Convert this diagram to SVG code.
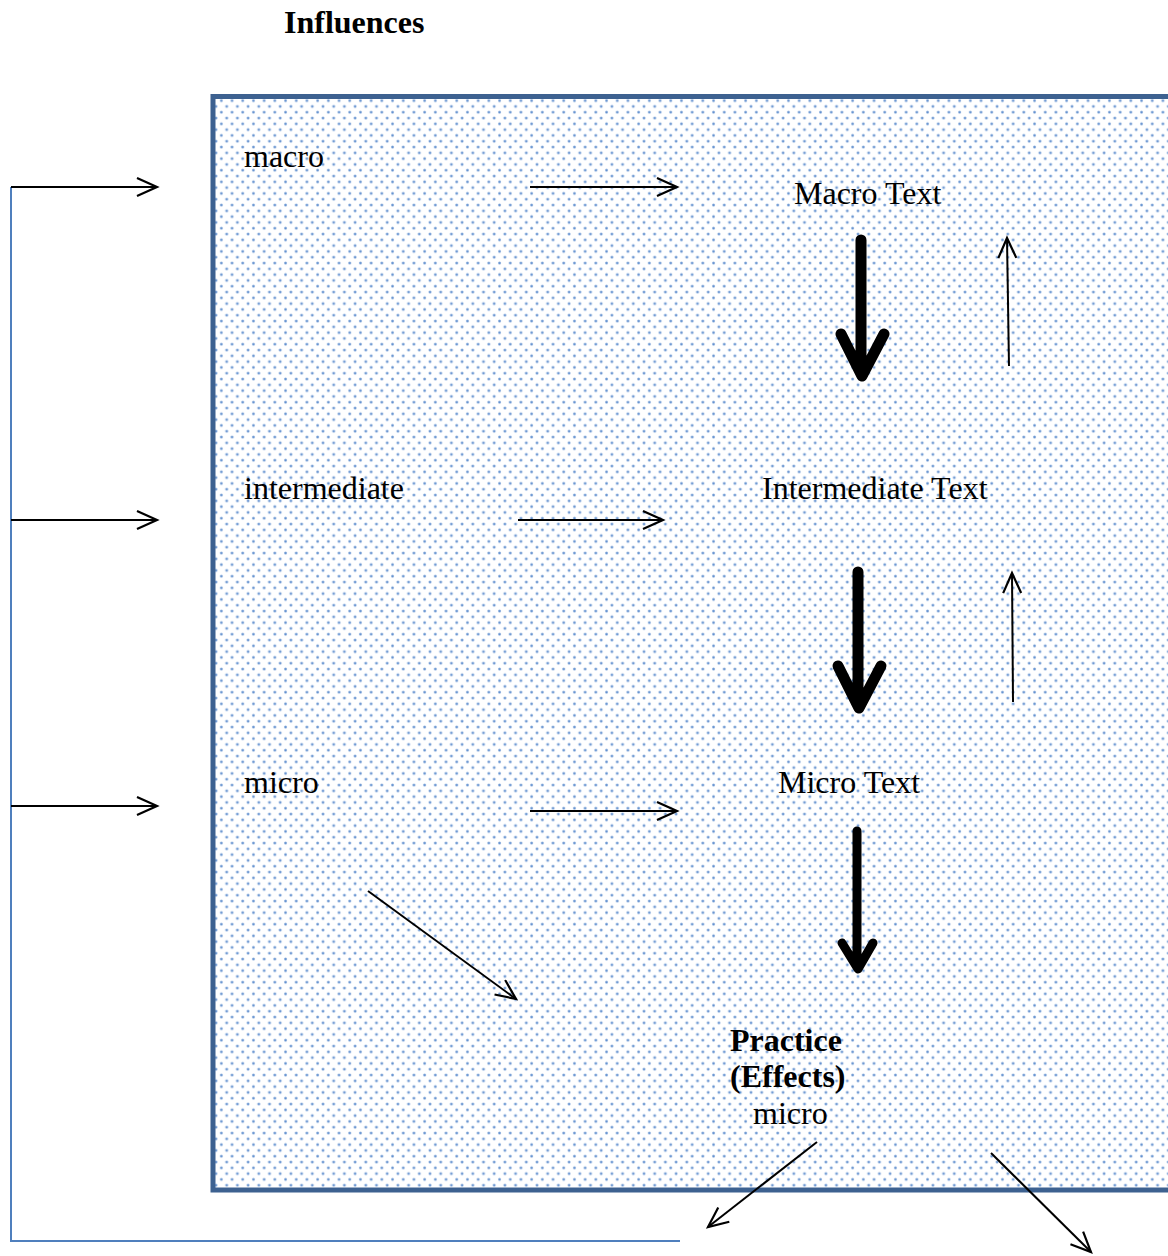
<svg xmlns="http://www.w3.org/2000/svg" width="1168" height="1256" viewBox="0 0 1168 1256">
<style>
text{font-family:"Liberation Serif","Times New Roman",serif;font-size:32px;fill:#000}
.b{font-weight:bold}
.thin{stroke:#000;stroke-width:2;fill:none}
.thick{stroke:#000;fill:none;stroke-linecap:round;stroke-linejoin:round}
.blue{stroke:#4f7fbd;stroke-width:2;fill:none}
</style>
<defs>
<pattern id="dots" width="10.7" height="11.6" patternUnits="userSpaceOnUse">
<rect width="10.7" height="11.6" fill="#fff"/>
<circle cx="2" cy="2" r="1.6" fill="#9dbbe3"/>
<circle cx="2" cy="2" r="0.9" fill="#5d8ccc"/>
<circle cx="7.35" cy="7.8" r="1.6" fill="#9dbbe3"/>
<circle cx="7.35" cy="7.8" r="0.9" fill="#5d8ccc"/>
</pattern>
<marker id="open" markerUnits="userSpaceOnUse" markerWidth="30" markerHeight="24" refX="21" refY="10" orient="auto">
<path d="M1,1 L21,10 L1,19" stroke="#000" stroke-width="2.2" fill="none"/>
</marker>
</defs>
<rect width="1168" height="1256" fill="#fff"/>
<g id="frame">
<rect x="213" y="96.5" width="980" height="1093.5" fill="url(#dots)" stroke="#3d6190" stroke-width="5"/>
</g>
<g id="title"><text class="b" x="284" y="33">Influences</text></g>
<g id="n-macro"><text x="244" y="167">macro</text></g>
<g id="n-macro-text"><text x="794" y="204">Macro Text</text></g>
<g id="n-intermediate"><text x="244" y="499">intermediate</text></g>
<g id="n-intermediate-text"><text x="762" y="499">Intermediate Text</text></g>
<g id="n-micro"><text x="244" y="793">micro</text></g>
<g id="n-micro-text"><text x="778" y="793">Micro Text</text></g>
<g id="n-practice">
<text class="b" x="730" y="1051">Practice</text>
<text class="b" x="730" y="1087">(Effects)</text>
<text x="753" y="1124">micro</text>
</g>
<g id="connectors">
<polyline class="blue" points="680,1241 11,1241 11,187"/>
<line class="thin" x1="11" y1="187" x2="157" y2="187" marker-end="url(#open)"/>
<line class="thin" x1="11" y1="520" x2="157" y2="520" marker-end="url(#open)"/>
<line class="thin" x1="11" y1="806" x2="157" y2="806" marker-end="url(#open)"/>
<line class="thin" x1="530" y1="187" x2="677" y2="187" marker-end="url(#open)"/>
<line class="thin" x1="518" y1="520" x2="663" y2="520" marker-end="url(#open)"/>
<line class="thin" x1="530" y1="811" x2="677" y2="811" marker-end="url(#open)"/>
<line class="thin" x1="1009" y1="366" x2="1007" y2="238" marker-end="url(#open)"/>
<line class="thin" x1="1013" y1="702" x2="1012" y2="573" marker-end="url(#open)"/>
<line class="thin" x1="368" y1="891" x2="516" y2="999" marker-end="url(#open)"/>
<line class="thin" x1="817" y1="1142" x2="708" y2="1227" marker-end="url(#open)"/>
<line class="thin" x1="991" y1="1153" x2="1091" y2="1252" marker-end="url(#open)"/>
<path class="thick" stroke-width="11" d="M861,240 L861,370 M841,334 L862,376 L884,334"/>
<path class="thick" stroke-width="11" d="M858,572 L858,702 M838,666 L859,708 L881,666"/>
<path class="thick" stroke-width="9" d="M857,831 L857,962 M842,943 L858,969 L873,943"/>
</g>
</svg>
